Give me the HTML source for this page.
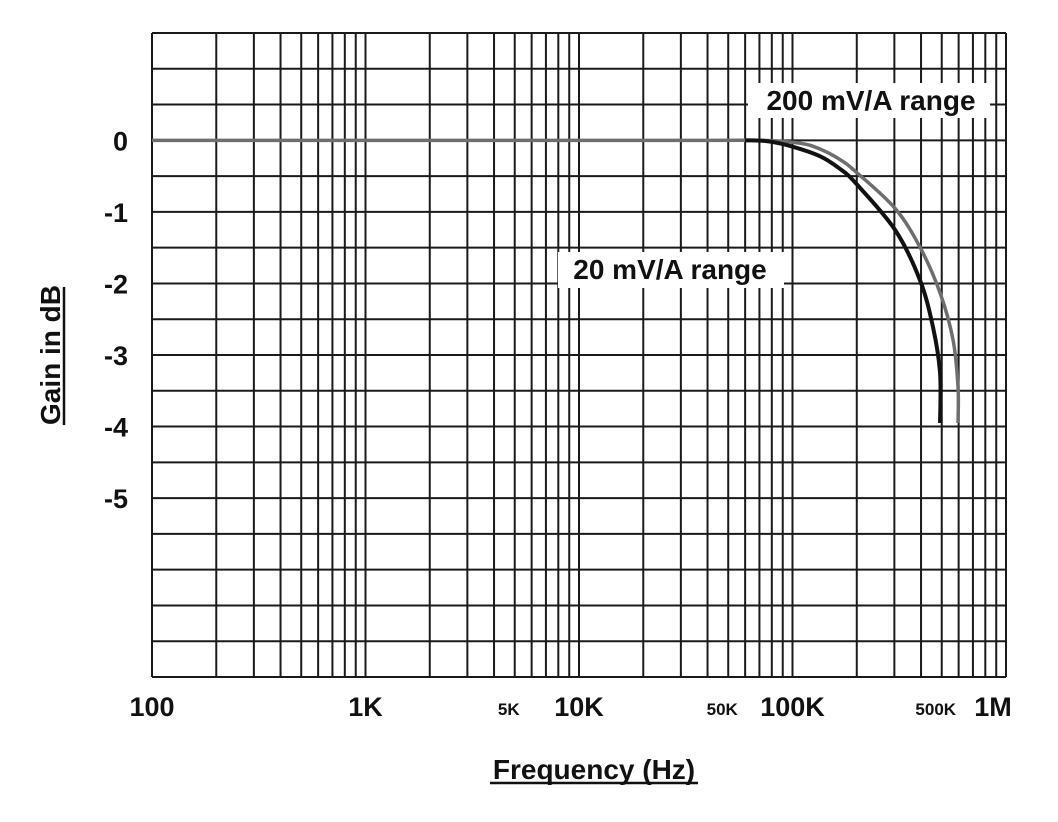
<!DOCTYPE html>
<html><head><meta charset="utf-8"><style>
html,body{margin:0;padding:0;background:#fff;}
svg{display:block;font-family:"Liberation Sans",Arial,sans-serif;font-weight:bold;}
</style></head><body>
<svg id="chart" width="1058" height="822" viewBox="0 0 1058 822">
<g id="grid"></g>
<g id="curves"></g>
<g id="labels"></g>
</svg>
<script>
const xTicks = [100,1000,10000,100000,1000000];
const xTickLabels = ["100","1K","10K","100K","1M"];
const xMinorLabelVals = [5000,50000,500000];
const xMinorLabels = ["5K","50K","500K"];
const yTicks = [0,-1,-2,-3,-4,-5];
const yTickLabels = ["0","-1","-2","-3","-4","-5"];
const freq20 = [60000,75000,95000,134000,167000,198000,302000,395000,455000,491000,491000];
const gain20 = [0,-0.01,-0.07,-0.22,-0.4,-0.6,-1.25,-1.95,-2.61,-3.25,-3.95];
const freq200 = [100,30000,70000,108000,134000,167000,198000,302000,395000,491000,565000,596000,596000];
const gain200 = [0,0,0,-0.04,-0.12,-0.27,-0.44,-0.95,-1.49,-2.13,-2.79,-3.45,-3.95];

const X0=152, X1=1006, Y0=33, Y1=677;
const NS="http://www.w3.org/2000/svg";
function xs(f){return X0+(Math.log10(f)-2)/4*(X1-X0);}
const rowH=(Y1-Y0)/18;
function ys(db){return Y0+3*rowH-db*2*rowH;}
function mk(tag,attrs,parent){const e=document.createElementNS(NS,tag);for(const k in attrs)e.setAttribute(k,attrs[k]);parent.appendChild(e);return e;}
const grid=document.getElementById('grid'), curves=document.getElementById('curves'), labels=document.getElementById('labels');

for(let d=2;d<6;d++){for(let m=1;m<10;m++){const f=m*Math.pow(10,d);const x=xs(f);
 const l=mk('line',{x1:x,x2:x,y1:Y0,y2:Y1,stroke:'#1a1a1a','stroke-width':2},grid);
 
 }}
const lr=mk('line',{x1:X1,x2:X1,y1:Y0,y2:Y1,stroke:'#1a1a1a','stroke-width':2},grid);


for(let k=0;k<=18;k++){const y=Y0+k*rowH;
 const l=mk('line',{x1:X0,x2:X1,y1:y,y2:y,stroke:'#1a1a1a','stroke-width':2},grid);
 
 }

function pathFrom(fs,gs){const p=fs.map((f,i)=>[xs(f),ys(gs[i])]);
 let d='M'+p[0][0]+','+p[0][1];
 for(let i=0;i<p.length-1;i++){const a=p[Math.max(0,i-1)],b=p[i],c=p[i+1],e=p[Math.min(p.length-1,i+2)];
  const c1=[b[0]+(c[0]-a[0])/6,b[1]+(c[1]-a[1])/6],c2=[c[0]-(e[0]-b[0])/6,c[1]-(e[1]-b[1])/6];
  d+=' C'+c1[0]+','+c1[1]+' '+c2[0]+','+c2[1]+' '+c[0]+','+c[1];}
 return d;}
const p200=mk('path',{d:pathFrom(freq200,gain200),fill:'none',stroke:'#6e6e6e','stroke-width':3.5},curves);


const p20=mk('path',{d:pathFrom(freq20,gain20),fill:'none',stroke:'#111','stroke-width':4},curves);



function txt(s,x,y,size,anchor,name){const t=mk('text',{x:x,y:y,'font-size':size,'text-anchor':anchor,fill:'#111'},labels);t.textContent=s;
 
 return t;}
xTicks.forEach((f,i)=>{const x=Math.min(xs(f),993);txt(xTickLabels[i],x,716,27,'middle','x-tick-label');});
xMinorLabelVals.forEach((f,i)=>{txt(xMinorLabels[i],xs(f)-6,715,17,'middle','x-minor-tick-label');});
yTicks.forEach((v,i)=>{txt(yTickLabels[i],128,ys(v)+10,27,'end','y-tick-label');});

function box(x,y,w,h,name){const r=mk('rect',{x:x,y:y,width:w,height:h,fill:'#fff'},labels);
 
 }
box(748,83,242,35,'legend-200-box');
txt('200 mV/A range',871,110,28,'middle','legend-200mv');
box(558,252,226,36,'legend-20-box');
txt('20 mV/A range',670,279,28,'middle','legend-20mv');

txt('Frequency (Hz)',594,779,28,'middle','x-axis-title');
const xu=mk('line',{x1:490,x2:698,y1:783,y2:783,stroke:'#111','stroke-width':2.5},labels);


const yt=txt('Gain in dB',0,0,28,'middle','y-axis-title');
yt.setAttribute('transform','translate(60,355) rotate(-90)');
const yu=mk('line',{x1:64,x2:64,y1:287,y2:425,stroke:'#111','stroke-width':2.5},labels);


</script>
</body></html>
